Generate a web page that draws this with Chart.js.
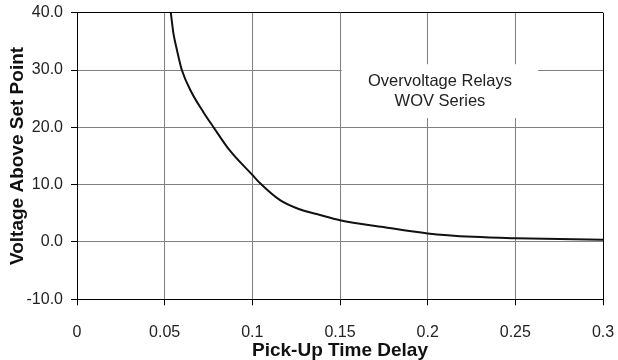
<!DOCTYPE html>
<html>
<head>
<meta charset="utf-8">
<script src="https://cdn.jsdelivr.net/npm/chart.js@4/dist/chart.umd.min.js"></script>
<style>
    html, body { margin: 0; padding: 0; background: #fff; }
    #wrap { width: 618px; height: 360px; }
</style>
</head>
<body>
<div id="wrap"><canvas id="relayChart"></canvas></div>
<script>
// Curve: pick-up time delay vs voltage above set point
const delayValues = [0.0535, 0.055, 0.057, 0.0598, 0.065, 0.0722, 0.0779, 0.0869, 0.1, 0.1046, 0.1158, 0.127, 0.1386, 0.15, 0.1747, 0.2, 0.226, 0.25, 0.3];
const voltageValues = [40, 36.4, 33.5, 30, 26.3, 22.6, 20, 16.05, 11.7, 10.2, 7.3, 5.7, 4.7, 3.8, 2.6, 1.5, 0.9, 0.65, 0.4];

// Axis ticks
const xTicks = [0, 0.05, 0.1, 0.15, 0.2, 0.25, 0.3];
const xTickLabels = ['0', '0.05', '0.1', '0.15', '0.2', '0.25', '0.3'];
const yTicks = [-10, 0, 10, 20, 30, 40];
const yTickLabels = ['-10.0', '0.0', '10.0', '20.0', '30.0', '40.0'];

// Annotation text and its box (data units)
const noteLines = ['Overvoltage Relays', 'WOV Series'];
const noteBox = { x1: 0.151, x2: 0.263, y1: 31.0, y2: 21.6 };
const noteCenter = { x: 0.207 };

const FONT = "'Liberation Sans', Arial, sans-serif";
const GRID = '#808080';

// Draw the white label box over the grid, before the curve
const notePlugin = {
    id: 'note',
    beforeDatasetsDraw(chart) {
        const { ctx, scales: { x, y } } = chart;
        const left = x.getPixelForValue(noteBox.x1);
        const right = x.getPixelForValue(noteBox.x2);
        const top = y.getPixelForValue(noteBox.y1);
        const bottom = y.getPixelForValue(noteBox.y2);
        ctx.save();
        ctx.fillStyle = '#fff';
        ctx.fillRect(left, top, right - left, bottom - top);
        ctx.fillStyle = '#222';
        ctx.font = '16.5px ' + FONT;
        ctx.textAlign = 'center';
        ctx.textBaseline = 'middle';
        const cx = x.getPixelForValue(noteCenter.x);
        const cy = (top + bottom) / 2;
        ctx.fillText(noteLines[0], cx, cy - 10);
        ctx.fillText(noteLines[1], cx, cy + 10);
        ctx.restore();
    }
};

// Keep the plot area where the layout padding puts it
function noScalePadding(scale) {
    scale.paddingTop = 0;
    scale.paddingBottom = 0;
    scale.paddingLeft = 0;
    scale.paddingRight = 0;
}

const ctx = document.getElementById('relayChart').getContext('2d');
new Chart(ctx, {
    type: 'line',
    data: {
        datasets: [{
            data: delayValues.map((d, i) => ({ x: d, y: voltageValues[i] })),
            borderColor: '#111',
            borderWidth: 2,
            pointRadius: 0,
            cubicInterpolationMode: 'monotone',
            fill: false
        }]
    },
    options: {
        responsive: true,
        maintainAspectRatio: false,
        animation: false,
        layout: { padding: { top: 12.7, right: 15, left: 0, bottom: 0 } },
        plugins: { legend: { display: false }, tooltip: { enabled: false } },
        scales: {
            x: {
                type: 'linear',
                min: 0,
                max: 0.3,
                afterBuildTicks: (scale) => { scale.ticks = xTicks.map(v => ({ value: v })); },
                afterFit: (scale) => { scale.height = 60.7; noScalePadding(scale); },
                ticks: {
                    color: '#222',
                    font: { family: FONT, size: 16 },
                    padding: 18,
                    maxRotation: 0,
                    callback: (value) => xTickLabels[xTicks.indexOf(value)]
                },
                grid: {
                    color: (c) => (c.tick && c.tick.value === 0.3 ? '#000' : GRID),
                    tickColor: '#000',
                    tickLength: 6,
                    lineWidth: 1
                },
                border: { color: '#000', width: 1 },
                title: {
                    display: true,
                    text: 'Pick-Up Time Delay',
                    color: '#111',
                    font: { family: FONT, size: 19, weight: 'bold', lineHeight: 1 },
                    padding: { top: 0, bottom: 0 }
                }
            },
            y: {
                min: -10,
                max: 40,
                afterBuildTicks: (scale) => { scale.ticks = yTicks.map(v => ({ value: v })); },
                afterFit: (scale) => { scale.width = 77; noScalePadding(scale); },
                ticks: {
                    color: '#222',
                    font: { family: FONT, size: 16 },
                    padding: 8,
                    callback: (value) => yTickLabels[yTicks.indexOf(value)]
                },
                grid: {
                    color: (c) => (c.tick && c.tick.value === 40 ? '#000' : GRID),
                    tickColor: '#000',
                    tickLength: 6,
                    lineWidth: 1
                },
                border: { color: '#000', width: 1 },
                title: {
                    display: true,
                    text: 'Voltage Above Set Point',
                    color: '#111',
                    font: { family: FONT, size: 19, weight: 'bold', lineHeight: 1 },
                    padding: { top: 8.5, bottom: 0 }
                }
            }
        }
    },
    plugins: [notePlugin]
});
</script>
</body>
</html>
